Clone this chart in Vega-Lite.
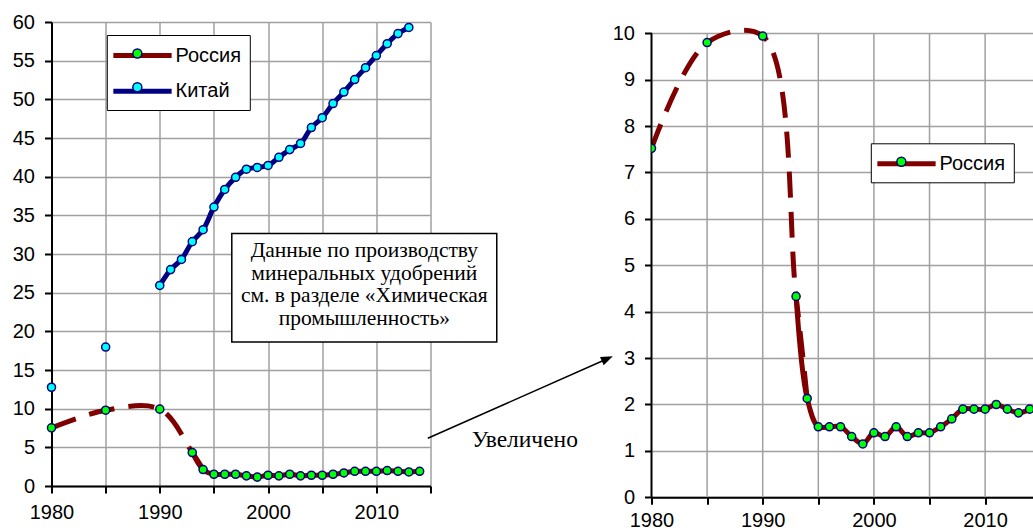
{
  "$schema": "https://vega.github.io/schema/vega-lite/v6.json",
  "padding": {"left": 11.5, "top": 12, "right": 0, "bottom": 0},
  "background": "white",
  "datasets": {
    "prod": [
      {"country": "Россия", "year": 1980, "value": 7.52},
      {"country": "Россия", "year": 1985, "value": 9.80},
      {"country": "Россия", "year": 1990, "value": 9.94},
      {"country": "Россия", "year": 1993, "value": 4.33},
      {"country": "Россия", "year": 1994, "value": 2.13},
      {"country": "Россия", "year": 1995, "value": 1.52},
      {"country": "Россия", "year": 1996, "value": 1.52},
      {"country": "Россия", "year": 1997, "value": 1.52},
      {"country": "Россия", "year": 1998, "value": 1.31},
      {"country": "Россия", "year": 1999, "value": 1.15},
      {"country": "Россия", "year": 2000, "value": 1.39},
      {"country": "Россия", "year": 2001, "value": 1.31},
      {"country": "Россия", "year": 2002, "value": 1.52},
      {"country": "Россия", "year": 2003, "value": 1.31},
      {"country": "Россия", "year": 2004, "value": 1.39},
      {"country": "Россия", "year": 2005, "value": 1.39},
      {"country": "Россия", "year": 2006, "value": 1.52},
      {"country": "Россия", "year": 2007, "value": 1.69},
      {"country": "Россия", "year": 2008, "value": 1.90},
      {"country": "Россия", "year": 2009, "value": 1.90},
      {"country": "Россия", "year": 2010, "value": 1.90},
      {"country": "Россия", "year": 2011, "value": 2.00},
      {"country": "Россия", "year": 2012, "value": 1.90},
      {"country": "Россия", "year": 2013, "value": 1.82},
      {"country": "Россия", "year": 2014, "value": 1.90},
      {"country": "Китай", "year": 1980, "value": 12.77},
      {"country": "Китай", "year": 1985, "value": 17.97},
      {"country": "Китай", "year": 1990, "value": 25.93},
      {"country": "Китай", "year": 1991, "value": 27.98},
      {"country": "Китай", "year": 1992, "value": 29.3},
      {"country": "Китай", "year": 1993, "value": 31.6},
      {"country": "Китай", "year": 1994, "value": 33.14},
      {"country": "Китай", "year": 1995, "value": 36.07},
      {"country": "Китай", "year": 1996, "value": 38.35},
      {"country": "Китай", "year": 1997, "value": 39.92},
      {"country": "Китай", "year": 1998, "value": 40.97},
      {"country": "Китай", "year": 1999, "value": 41.19},
      {"country": "Китай", "year": 2000, "value": 41.45},
      {"country": "Китай", "year": 2001, "value": 42.5},
      {"country": "Китай", "year": 2002, "value": 43.5},
      {"country": "Китай", "year": 2003, "value": 44.29},
      {"country": "Китай", "year": 2004, "value": 46.35},
      {"country": "Китай", "year": 2005, "value": 47.62},
      {"country": "Китай", "year": 2006, "value": 49.45},
      {"country": "Китай", "year": 2007, "value": 50.94},
      {"country": "Китай", "year": 2008, "value": 52.56},
      {"country": "Китай", "year": 2009, "value": 54.09},
      {"country": "Китай", "year": 2010, "value": 55.66},
      {"country": "Китай", "year": 2011, "value": 57.19},
      {"country": "Китай", "year": 2012, "value": 58.5},
      {"country": "Китай", "year": 2013, "value": 59.29}
    ]
  },
  "spacing": 221,
  "bounds": "flush",
  "resolve": {
    "scale": {"x": "independent", "y": "independent", "color": "independent", "fill": "independent"},
    "legend": {"color": "independent", "fill": "independent"}
  },
  "hconcat": [
    {
      "width": 379,
      "height": 464,
      "layer": [
        {
          "data": {"name": "prod"},
          "transform": [{"filter": "datum.country === 'Россия' && datum.year <= 1994"}],
          "mark": {"type": "line", "stroke": "#800000", "strokeWidth": 5, "strokeDash": [26, 14], "interpolate": "catmull-rom"},
          "encoding": {
            "x": {
              "field": "year", "type": "quantitative",
              "scale": {"domain": [1980, 2015], "nice": false, "zero": false},
              "axis": {"title": null, "format": "d", "values": [1980, 1985, 1990, 1995, 2000, 2005, 2010, 2015], "tickCount": 100, "labelExpr": "datum.value % 10 === 0 ? datum.label : ''", "grid": true, "labelFlush": false, "labelOverlap": false}
            },
            "y": {
              "field": "value", "type": "quantitative",
              "scale": {"domain": [0, 60], "nice": false, "zero": true},
              "axis": {"title": null, "format": "d", "values": [0, 5, 10, 15, 20, 25, 30, 35, 40, 45, 50, 55, 60], "tickCount": 100, "grid": true, "labelPadding": 10, "labelOverlap": false}
            }
          }
        },
        {
          "data": {"values": [{}]},
          "mark": {"type": "rect", "fill": "white", "stroke": "black", "strokeWidth": 1.5},
          "encoding": {
            "x": {"datum": 1996.65, "type": "quantitative"},
            "x2": {"datum": 2021.12},
            "y": {"datum": 32.64, "type": "quantitative"},
            "y2": {"datum": 18.62}
          }
        },
        {
          "data": {"values": [{}]},
          "mark": {
            "type": "text",
            "text": ["Данные по производству", "минеральных удобрений", "см. в разделе «Химическая", "промышленность»"],
            "font": "Liberation Serif",
            "fontSize": 21.5,
            "lineHeight": 22.7,
            "align": "center",
            "baseline": "middle",
            "color": "black"
          },
          "encoding": {
            "x": {"datum": 2008.89, "type": "quantitative"},
            "y": {"datum": 30.4, "type": "quantitative"}
          }
        },
        {
          "data": {"values": [{}]},
          "mark": {"type": "rule", "color": "black", "strokeWidth": 1.5},
          "encoding": {
            "x": {"datum": 2014.75, "type": "quantitative"},
            "y": {"datum": 6.17, "type": "quantitative"},
            "x2": {"datum": 2031.33},
            "y2": {"datum": 16.46}
          }
        },
        {
          "data": {"values": [{}]},
          "mark": {"type": "point", "shape": "M0,-1L0.75,1L-0.75,1Z", "size": 144, "filled": true, "color": "black", "opacity": 1, "angle": 66},
          "encoding": {
            "x": {"datum": 2031.33, "type": "quantitative"},
            "y": {"datum": 16.46, "type": "quantitative"}
          }
        },
        {
          "data": {"values": [{}]},
          "mark": {"type": "text", "text": "Увеличено", "font": "Liberation Serif", "fontSize": 23.5, "align": "center", "baseline": "middle", "color": "black"},
          "encoding": {
            "x": {"datum": 2023.71, "type": "quantitative"},
            "y": {"datum": 5.91, "type": "quantitative"}
          }
        },
        {
          "data": {"name": "prod"},
          "transform": [{"filter": "(datum.country === 'Россия' && datum.year >= 1993) || (datum.country === 'Китай' && datum.year >= 1990)"}],
          "mark": {"type": "line", "strokeWidth": 5, "interpolate": "catmull-rom", "strokeCap": "round"},
          "encoding": {
            "x": {"field": "year", "type": "quantitative"},
            "y": {"field": "value", "type": "quantitative"},
            "color": {
              "field": "country", "type": "nominal", "sort": "descending",
              "scale": {"range": ["#800000", "#000080"]},
              "legend": {
                "orient": "none", "legendX": 55.3, "legendY": 13, "title": null,
                "symbolType": "M-1.443,0H4.586", "symbolSize": 373.8, "symbolStrokeWidth": 5,
                "labelFont": "Liberation Sans", "labelFontSize": 20, "labelColor": "black",
                "labelOffset": 35.7, "padding": 8, "rowPadding": 12.7,
                "strokeColor": "black", "fillColor": "white", "zindex": 1
              }
            }
          }
        },
        {
          "data": {"name": "prod"},
          "mark": {"type": "point", "shape": "circle", "size": 65, "filled": true, "stroke": "#000080", "strokeWidth": 1.5, "opacity": 1},
          "encoding": {
            "x": {"field": "year", "type": "quantitative"},
            "y": {"field": "value", "type": "quantitative"},
            "fill": {
              "field": "country", "type": "nominal", "sort": "descending",
              "scale": {"range": ["#00ff00", "#00ffff"]},
              "legend": {
                "orient": "none", "legendX": 55.3, "legendY": 13, "title": null,
                "symbolType": "M1.7115,0A0.4655,0.4655,0,1,1,0.7805,0A0.4655,0.4655,0,1,1,1.7115,0Z",
                "symbolSize": 373.8, "symbolStrokeColor": "#000080", "symbolStrokeWidth": 1.5,
                "labelFont": "Liberation Sans", "labelFontSize": 20, "labelExpr": "''",
                "labelOffset": 35.7, "padding": 8, "rowPadding": 12.7, "zindex": 2
              }
            }
          }
        }
      ]
    },
    {
      "width": 382,
      "height": 475.3,
      "layer": [
        {
          "data": {"name": "prod"},
          "transform": [{"filter": "datum.country === 'Россия' && datum.year <= 1994"}],
          "mark": {"type": "line", "stroke": "#800000", "strokeWidth": 5, "strokeDash": [26, 14], "interpolate": "catmull-rom", "clip": true},
          "encoding": {
            "x": {
              "field": "year", "type": "quantitative",
              "scale": {"domain": [1980, 2014.35], "nice": false, "zero": false},
              "axis": {
                "title": null,
                "format": "d",
                "values": [1980, 1985, 1990, 1995, 2000, 2005, 2010],
                "tickCount": 100,
                "labelExpr": "datum.value % 10 === 0 ? datum.label : ''",
                "grid": false,
                "labelFlush": false,
                "labelOverlap": false,
                "labelPadding": 6.5
              }
            },
            "y": {
              "field": "value", "type": "quantitative",
              "scale": {"domain": [0, 10.2435], "nice": false, "zero": true},
              "axis": {
                "title": null,
                "domain": false,
                "format": "d",
                "values": [0, 0.5, 1, 1.5, 2, 2.5, 3, 3.5, 4, 4.5, 5, 5.5, 6, 6.5, 7, 7.5, 8, 8.5, 9, 9.5, 10],
                "tickCount": 100,
                "labelExpr": "datum.value % 1 === 0 ? datum.label : ''",
                "grid": true,
                "gridColor": {"condition": {"test": "datum.value % 1 !== 0", "value": "#d2d2d2"}, "value": "#a0a0a0"},
                "tickOpacity": {"condition": {"test": "datum.value % 1 !== 0", "value": 0}, "value": 1},
                "labelPadding": 10,
                "labelOverlap": false
              }
            }
          }
        },
        {
          "data": {"values": [{"year": 1985}, {"year": 1990}, {"year": 1995}, {"year": 2000}, {"year": 2005}, {"year": 2010}]},
          "mark": {"type": "rule", "color": "#a0a0a0", "strokeWidth": 1.5},
          "encoding": {
            "x": {"field": "year", "type": "quantitative"},
            "y": {"datum": 0, "type": "quantitative"},
            "y2": {"datum": 10}
          }
        },
        {
          "data": {"values": [{}]},
          "mark": {"type": "rule", "color": "black", "strokeWidth": 2},
          "encoding": {
            "x": {"datum": 1980, "type": "quantitative"},
            "y": {"datum": 0, "type": "quantitative"},
            "y2": {"datum": 10}
          }
        },
        {
          "data": {"name": "prod"},
          "transform": [{"filter": "datum.country === 'Россия' && datum.year >= 1993"}],
          "mark": {"type": "line", "strokeWidth": 5, "interpolate": "catmull-rom", "strokeCap": "round", "clip": true},
          "encoding": {
            "x": {"field": "year", "type": "quantitative"},
            "y": {"field": "value", "type": "quantitative"},
            "color": {
              "field": "country", "type": "nominal",
              "scale": {"range": ["#800000"]},
              "legend": {
                "orient": "none", "legendX": 219.3, "legendY": 121.3, "title": null,
                "symbolType": "M-1.443,0H4.586", "symbolSize": 373.8, "symbolStrokeWidth": 5,
                "labelFont": "Liberation Sans", "labelFontSize": 20, "labelColor": "black",
                "labelOffset": 35.7, "padding": 8, "rowPadding": 12.7,
                "strokeColor": "black", "fillColor": "white", "zindex": 1
              }
            }
          }
        },
        {
          "data": {"name": "prod"},
          "transform": [{"filter": "datum.country === 'Россия'"}],
          "mark": {"type": "point", "shape": "circle", "size": 65, "filled": true, "stroke": "#000080", "strokeWidth": 1.5, "opacity": 1, "clip": true},
          "encoding": {
            "x": {"field": "year", "type": "quantitative"},
            "y": {"field": "value", "type": "quantitative"},
            "fill": {
              "field": "country", "type": "nominal",
              "scale": {"range": ["#00ff00"]},
              "legend": {
                "orient": "none", "legendX": 219.3, "legendY": 121.3, "title": null,
                "symbolType": "M1.7115,0A0.4655,0.4655,0,1,1,0.7805,0A0.4655,0.4655,0,1,1,1.7115,0Z",
                "symbolSize": 373.8, "symbolStrokeColor": "#000080", "symbolStrokeWidth": 1.5,
                "labelFont": "Liberation Sans", "labelFontSize": 20, "labelExpr": "''",
                "labelOffset": 35.7, "padding": 8, "rowPadding": 12.7, "zindex": 2
              }
            }
          }
        }
      ]
    }
  ],
  "config": {
    "view": {"stroke": null},
    "axis": {
      "domainColor": "black",
      "domainWidth": 2,
      "tickColor": "black",
      "tickWidth": 2,
      "tickSize": 7,
      "labelFont": "Liberation Sans",
      "labelFontSize": 20,
      "labelColor": "black",
      "labelPadding": 9,
      "gridColor": "#a0a0a0",
      "gridWidth": 1.5
    }
  }
}
